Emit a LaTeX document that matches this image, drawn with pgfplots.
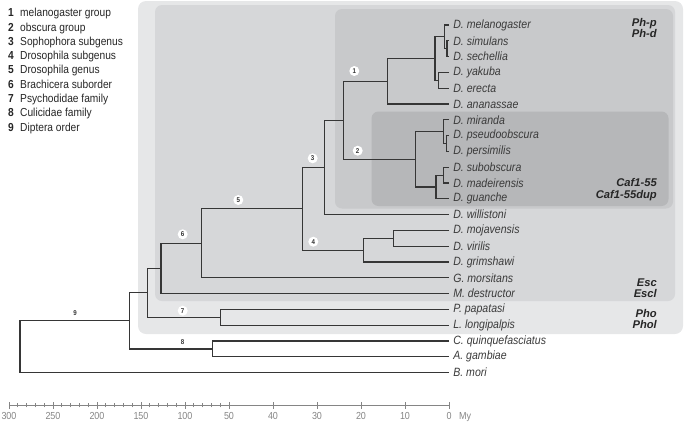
\documentclass[border=0pt]{standalone}
\usepackage{fontspec}
\setmainfont{Liberation Sans}[FakeStretch=0.88]
\newfontfamily\genefont{Liberation Sans}
\usepackage{pgfplots}
\pgfplotsset{compat=1.18}
\definecolor{treecol}{HTML}{363636}
\definecolor{labcol}{HTML}{3A3A3A}
\definecolor{scalecol}{HTML}{858585}
\definecolor{boxA}{HTML}{E6E7E8}
\definecolor{boxB}{HTML}{D6D7D9}
\definecolor{boxC}{HTML}{C8C9CB}
\definecolor{boxD}{HTML}{B6B7B9}
\pgfplotsset{treeline/.style={draw=treecol, line width=1.2pt, no markers, line join=miter}}
\tikzset{leaf/.style={anchor=west, xshift=4pt, inner sep=0pt, text=labcol, font=\itshape\fontsize{12}{13}\selectfont},
  circ/.style={circle, fill=white, inner sep=0pt, minimum size=10pt, text=treecol, font=\bfseries\fontsize{7}{7}\selectfont},
  gene/.style={anchor=base east, inner sep=0pt, text=black!85, font=\genefont\bfseries\itshape\fontsize{11.2}{12}\selectfont},
  legn/.style={anchor=base west, inner sep=0pt, text=black!85, font=\bfseries\fontsize{11.6}{12}\selectfont},
  legt/.style={anchor=base west, inner sep=0pt, text=black!85, font=\fontsize{11.6}{12}\selectfont}}
% clade: child1 age, child1 y, node age, child2 y, child2 age
\newcommand{\clade}[5]{\addplot[treeline] coordinates {(#1,#2) (#3,#2) (#3,#4) (#5,#4)};}
\begin{document}
\begin{tikzpicture}
\begin{scope}[x=1pt,y=-1pt]
\fill[boxA,rounded corners=8pt] (138,1) rectangle (683,334);
\fill[boxB,rounded corners=7pt] (155,5) rectangle (675,301);
\fill[boxC,rounded corners=7pt] (335,9) rectangle (673,208.5);
\fill[boxD,rounded corners=7pt] (371.5,111.5) rectangle (668.5,206);
\end{scope}
\begin{axis}[name=tree, at={(0pt,0pt)}, anchor=north west, scale only axis,
  width=685pt, height=421pt, hide axis, clip=false, x dir=reverse,
  x coord trafo/.code={\pgfmathparse{#1<=50 ? #1 : 50+(#1-50)/5}},
  xmin=-53.6, xmax=310.25, ymin=-3.063, ymax=23.582]
% melanogaster group
\clade{0}{21}{0.5}{20}{0}
\clade{0}{22}{1.1}{20.5}{0.5}
\clade{0}{19}{2.4}{18}{0}
\clade{1.1}{21.25}{3.2}{18.5}{2.4}
\clade{3.2}{19.875}{14.0}{17}{0}
% obscura group
\clade{0}{15}{0.6}{14}{0}
\clade{0}{16}{1.3}{14.5}{0.6}
\clade{0}{13}{1.3}{12}{0}
\clade{1.3}{12.5}{3.0}{11}{0}
\clade{1.3}{15.25}{7.6}{11.75}{3.0}
% Sophophora
\clade{14.0}{18.4375}{24.0}{13.5}{7.6}
\clade{24.0}{15.96875}{28.4}{10}{0}
% Drosophila subgenus
\clade{0}{9}{12.7}{8}{0}
\clade{12.7}{8.5}{19.5}{7}{0}
% Drosophila genus and beyond
\clade{28.4}{12.984375}{33.3}{7.75}{19.5}
\clade{33.3}{10.3671875}{81}{6}{0}
\clade{81}{8.18359}{127.3}{5}{0}
\clade{0}{4}{59.5}{3}{0}
\clade{127.3}{6.5918}{142.4}{3.5}{59.5}
\clade{0}{2}{69}{1}{0}
\clade{142.4}{5.0459}{163.3}{1.5}{69}
\clade{163.3}{3.27295}{287.5}{0}{0}
% leaf names
\node[leaf] at (axis cs:0,22) {D. melanogaster};
\node[leaf] at (axis cs:0,21) {D. simulans};
\node[leaf] at (axis cs:0,20) {D. sechellia};
\node[leaf] at (axis cs:0,19) {D. yakuba};
\node[leaf] at (axis cs:0,18) {D. erecta};
\node[leaf] at (axis cs:0,17) {D. ananassae};
\node[leaf] at (axis cs:0,16) {D. miranda};
\node[leaf] at (axis cs:0,15) {D. pseudoobscura};
\node[leaf] at (axis cs:0,14) {D. persimilis};
\node[leaf] at (axis cs:0,13) {D. subobscura};
\node[leaf] at (axis cs:0,12) {D. madeirensis};
\node[leaf] at (axis cs:0,11) {D. guanche};
\node[leaf] at (axis cs:0,10) {D. willistoni};
\node[leaf] at (axis cs:0,9) {D. mojavensis};
\node[leaf] at (axis cs:0,8) {D. virilis};
\node[leaf] at (axis cs:0,7) {D. grimshawi};
\node[leaf] at (axis cs:0,6) {G. morsitans};
\node[leaf] at (axis cs:0,5) {M. destructor};
\node[leaf] at (axis cs:0,4) {P. papatasi};
\node[leaf] at (axis cs:0,3) {L. longipalpis};
\node[leaf] at (axis cs:0,2) {C. quinquefasciatus};
\node[leaf] at (axis cs:0,1) {A. gambiae};
\node[leaf] at (axis cs:0,0) {B. mori};
\end{axis}
\begin{axis}[name=scale, at={(9pt,-405pt)}, anchor=south west, scale only axis,
  width=440pt, height=10pt, x dir=reverse,
  x coord trafo/.code={\pgfmathparse{#1<=50 ? #1 : 50+(#1-50)/5}},
  xmin=0, xmax=300, ymin=0, ymax=1,
  axis x line*=bottom, axis y line=none,
  xtick={0,10,20,30,40,50,100,150,200,250,300},
  xticklabels={0,10,20,30,40,50,100,150,200,250,300},
  minor xtick={60,70,80,90,110,120,130,140,160,170,180,190,210,220,230,240,260,270,280,290},
  xtick align=center, major tick length=7pt, minor tick length=4.5pt,
  x axis line style={-, draw=scalecol, line width=0.8pt},
  every tick/.style={draw=scalecol, line width=0.7pt},
  xticklabel style={text=scalecol, font=\fontsize{10.2}{11}\selectfont}]
\end{axis}
\begin{scope}[x=1pt,y=-1pt]
% gene labels
\node[gene] at (657,26.5) {Ph-p};
\node[gene] at (657,37.5) {Ph-d};
\node[gene] at (657,186.5) {Caf1-55};
\node[gene] at (657,198.5) {Caf1-55dup};
\node[gene] at (657,286) {Esc};
\node[gene] at (657,297) {Escl};
\node[gene] at (657,317.5) {Pho};
\node[gene] at (657,328.5) {Phol};
% clade numbers
\node[circ] at (354.3,71) {1};
\node[circ] at (357.7,150.7) {2};
\node[circ] at (312.7,158.3) {3};
\node[circ] at (313.3,241.7) {4};
\node[circ] at (238.3,200) {5};
\node[circ] at (182.7,234.3) {6};
\node[circ] at (182.7,310.7) {7};
\node[circ] at (182.7,342.3) {8};
\node[circ] at (75,313.3) {9};
% legend
\node[legn] at (8,16.7) {1}; \node[legt] at (20,16.7) {melanogaster group};
\node[legn] at (8,31.0) {2}; \node[legt] at (20,31.0) {obscura group};
\node[legn] at (8,45.3) {3}; \node[legt] at (20,45.3) {Sophophora subgenus};
\node[legn] at (8,59.6) {4}; \node[legt] at (20,59.6) {Drosophila subgenus};
\node[legn] at (8,73.9) {5}; \node[legt] at (20,73.9) {Drosophila genus};
\node[legn] at (8,88.2) {6}; \node[legt] at (20,88.2) {Brachicera suborder};
\node[legn] at (8,102.5) {7}; \node[legt] at (20,102.5) {Psychodidae family};
\node[legn] at (8,116.8) {8}; \node[legt] at (20,116.8) {Culicidae family};
\node[legn] at (8,131.1) {9}; \node[legt] at (20,131.1) {Diptera order};
\node[anchor=base west, inner sep=0pt, text=scalecol, font=\fontsize{10.2}{11}\selectfont] at (459,419.3) {My};
\end{scope}
\pgfresetboundingbox
\path[use as bounding box] (0,0) rectangle (685pt,-421pt);
\end{tikzpicture}
\end{document}
